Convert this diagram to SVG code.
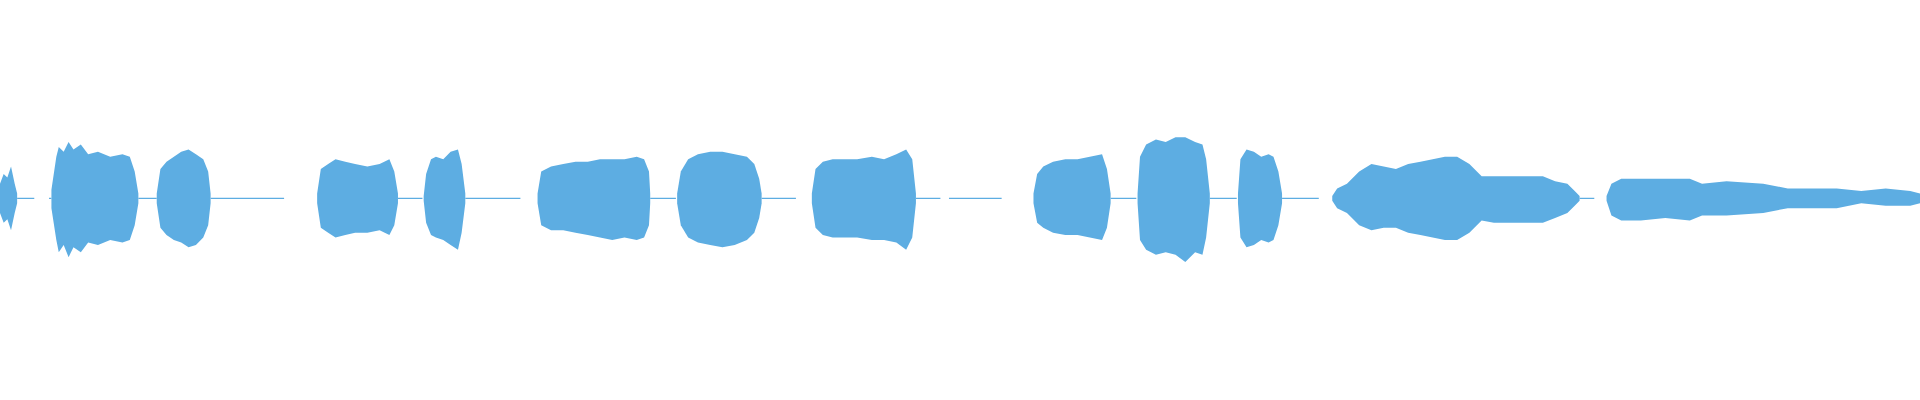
<svg xmlns="http://www.w3.org/2000/svg" width="1920" height="400" viewBox="0 0 1920 400">
<style>.w{fill:#5dade2}.l{stroke:#5dade2;stroke-width:1}</style>
<rect width="1920" height="400" fill="#fff"/>
<g transform="scale(1.2245)">
<g id="lines">
<line class="l" x1="14" y1="162" x2="28" y2="162"/>
<line class="l" x1="40" y1="162" x2="42" y2="162"/>
<line class="l" x1="113" y1="162" x2="128" y2="162"/>
<line class="l" x1="172" y1="162" x2="232" y2="162"/>
<line class="l" x1="325" y1="162" x2="345" y2="162"/>
<line class="l" x1="380" y1="162" x2="425" y2="162"/>
<line class="l" x1="531" y1="162" x2="552" y2="162"/>
<line class="l" x1="622" y1="162" x2="650" y2="162"/>
<line class="l" x1="748" y1="162" x2="768" y2="162"/>
<line class="l" x1="775" y1="162" x2="818" y2="162"/>
<line class="l" x1="907" y1="162" x2="928" y2="162"/>
<line class="l" x1="988" y1="162" x2="1010" y2="162"/>
<line class="l" x1="1047" y1="162" x2="1077" y2="162"/>
<line class="l" x1="1290" y1="162" x2="1302" y2="162"/>
</g>
<g id="blobs">
<path class="w" d="M0,150 L3,142 6,145 9,136 12,150 14,158 14,166 12,174 9,188 6,179 3,182 0,174Z"/>
<path class="w" d="M42,155 L46,128 48,120 52,124 56,116 60,122 66,118 72,126 80,124 90,128 100,126 106,128 110,140 113,158 113,166 110,184 106,196 100,198 90,196 80,200 72,198 66,206 60,202 56,210 52,200 48,206 46,196 42,170Z"/>
<path class="w" d="M128,158 L131,138 136,132 142,128 148,124 154,122 160,126 166,130 170,140 172,158 172,166 170,184 166,194 160,200 154,202 148,198 142,196 136,192 131,186 128,166Z"/>
<path class="w" d="M259,158 L262,138 268,134 274,130 282,132 290,134 300,136 310,134 318,130 322,140 325,158 325,166 322,184 318,192 310,188 300,190 290,190 282,192 274,194 268,190 262,186 259,166Z"/>
<path class="w" d="M346,160 L348,142 352,130 356,128 362,130 368,124 374,122 377,134 380,158 380,166 377,190 374,204 368,200 362,196 356,194 352,192 348,182 346,164Z"/>
<path class="w" d="M439,158 L442,140 450,136 460,134 470,132 480,132 490,130 500,130 510,130 520,128 526,130 530,140 531,158 531,166 530,184 526,194 520,196 510,194 500,196 490,194 480,192 470,190 460,188 450,188 442,184 439,166Z"/>
<path class="w" d="M553,158 L556,140 562,130 570,126 580,124 590,124 600,126 610,128 616,134 620,146 622,158 622,166 620,178 616,190 610,196 600,200 590,202 580,200 570,198 562,194 556,184 553,166Z"/>
<path class="w" d="M663,158 L666,138 672,132 680,130 690,130 700,130 712,128 722,130 732,126 740,122 745,130 748,158 748,166 745,194 740,204 732,198 722,196 712,196 700,194 690,194 680,194 672,192 666,186 663,166Z"/>
<path class="w" d="M844,158 L847,142 852,136 860,132 870,130 880,130 890,128 900,126 904,138 907,158 907,166 904,186 900,196 890,194 880,192 870,192 860,190 852,186 847,182 844,166Z"/>
<path class="w" d="M929,158 L931,128 936,118 944,114 952,116 960,112 968,112 976,116 982,118 985,130 988,158 988,166 985,194 982,208 976,206 968,214 960,208 952,206 944,208 936,204 931,196 929,166Z"/>
<path class="w" d="M1011,158 L1013,130 1018,122 1024,124 1030,128 1036,126 1040,128 1044,140 1047,158 1047,166 1044,184 1040,196 1036,198 1030,196 1024,200 1018,202 1013,194 1011,166Z"/>
<path class="w" d="M1088,160 L1092,154 1100,150 1110,140 1120,134 1130,136 1140,138 1150,134 1160,132 1170,130 1180,128 1190,128 1200,134 1210,144 1220,144 1240,144 1260,144 1270,148 1280,150 1286,156 1290,160 1290,164 1286,168 1280,174 1270,178 1260,182 1240,182 1220,182 1210,180 1200,190 1190,196 1180,196 1170,194 1160,192 1150,190 1140,186 1130,186 1120,188 1110,184 1100,174 1092,170 1088,164Z"/>
<path class="w" d="M1312,160 L1316,150 1324,146 1340,146 1360,146 1380,146 1390,150 1410,148 1440,150 1460,154 1480,154 1500,154 1520,156 1540,154 1560,156 1568,158 1568,166 1560,168 1540,168 1520,166 1500,170 1480,170 1460,170 1440,174 1410,176 1390,176 1380,180 1360,178 1340,180 1324,180 1316,176 1312,164Z"/>
</g>
</g>
</svg>
